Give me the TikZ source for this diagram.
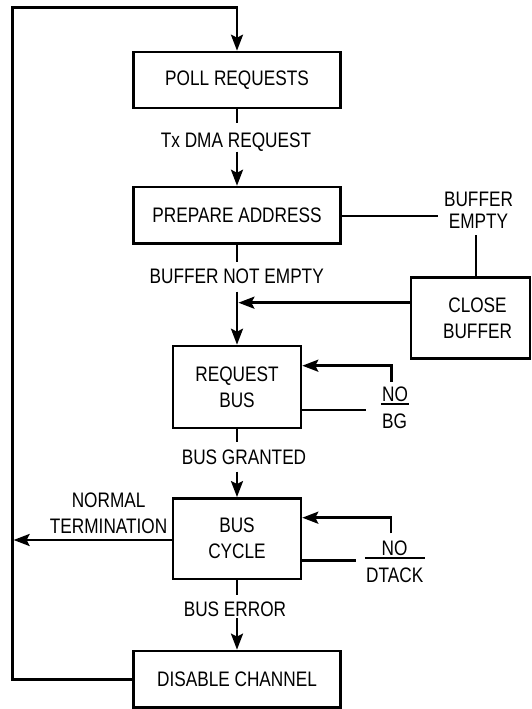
\documentclass[tikz,border=0pt]{standalone}
\usepackage{fontspec}
\setmainfont[FakeStretch=0.82]{Liberation Sans}
\usetikzlibrary{arrows.meta}
\begin{document}
\begin{tikzpicture}[x=1pt,y=-1pt,
  line width=2.6pt,
  >={Stealth[length=16pt,width=12pt,inset=3pt]},
  every node/.style={font=\fontsize{21}{26}\selectfont},
  box/.style={draw, line width=2.6pt, inner sep=0pt, align=center},
  lbl/.style={inner sep=0pt, text height=15pt, text depth=0pt, anchor=base},
  ml/.style={inner sep=0pt, align=center},
  rulethin/.style={line width=1.7pt},
]
\useasboundingbox (0,0) rectangle (532,709);
\fill[white] (0,0) rectangle (532,709);

% boxes
\node[box, minimum width=207pt, minimum height=56pt] (poll) at (237,80) {POLL REQUESTS};
\node[box, minimum width=207pt, minimum height=56.3pt] (prep) at (237,215.2) {PREPARE ADDRESS};
\node[box, minimum width=128pt, minimum height=82pt] (req) at (237,387) {REQUEST\\BUS};
\node[box, minimum width=128pt, minimum height=80.7pt] (cyc) at (237,538.7) {BUS\\CYCLE};
\node[box, minimum width=207pt, minimum height=56.7pt] (dis) at (237,679.3) {DISABLE CHANNEL};
\node[box, minimum width=119pt, minimum height=81pt] (close) at (470.5,318) {\hspace*{14pt}CLOSE\\\hspace*{14pt}BUFFER};

% labels
\node[lbl] (tx) at (236,147.3) {Tx DMA REQUEST};
\node[lbl] (bne) at (236.7,283.3) {BUFFER NOT EMPTY};
\node[lbl] (bgr) at (244,464.3) {BUS GRANTED};
\node[lbl] (ber) at (235,616) {BUS ERROR};
\node[ml] (bemp) at (478.5,210) {BUFFER\\[-4pt]EMPTY};
\node[ml] (nterm) at (108.6,513.7) {NORMAL\\TERMINATION};
\node[lbl] (no1) at (395,401.7) {NO};
\node[lbl] (bgn) at (394.5,428) {BG};
\node[lbl] (no2) at (394.5,555) {NO};
\node[lbl] (dt) at (394.7,582.3) {DTACK};

% spine coordinates
\coordinate (a1) at (237,123.3);
\coordinate (a2) at (237,151.7);
\coordinate (b1) at (237,261.7);
\coordinate (b2) at (237,291.7);
\coordinate (c1) at (237,441.7);
\coordinate (c2) at (237,471.7);
\coordinate (d1) at (237,595);
\coordinate (d2) at (237,618.3);

\draw (poll) -- (a1);
\draw[->] (a2) -- (prep);
\draw (prep) -- (b1);
\draw[->] (b2) -- (req);
\draw (req) -- (c1);
\draw[->] (c2) -- (cyc);
\draw (cyc) -- (d1);
\draw[->] (d2) -- (dis);

% close buffer branch
\coordinate (j1) at (238.4,302.7);
\draw[->] (close.west |- j1) -- (j1);
\coordinate (e1) at (438,216);
\draw (prep.east |- e1) -- (e1);
\coordinate (e2) at (476,235);
\draw (e2) -- (e2 |- close.north);

% feedback loops
\coordinate (f1) at (391.5,381.7);
\coordinate (f1t) at (391.5,365.7);
\draw[->] (f1) -- (f1t) -- (req.east |- f1t);
\coordinate (f1b) at (366,410);
\draw (req.east |- f1b) -- (f1b);
\coordinate (f2) at (391,533.3);
\coordinate (f2t) at (391,517.7);
\draw[->] (f2) -- (f2t) -- (cyc.east |- f2t);
\coordinate (f2b) at (355.7,560.7);
\draw (cyc.east |- f2b) -- (f2b);

% rules
\draw[rulethin] (no1.west |- 0,404.3) -- (no1.east |- 0,404.3);
\draw[rulethin] (dt.west |- 0,558.3) -- (dt.east |- 0,558.3);

% normal termination
\coordinate (nt1) at (13.6,540);
\draw[->] (cyc.west |- nt1) -- (nt1);

% outer loop
\coordinate (tl) at (12.3,7.7);
\draw[->] (dis.west) -| (tl) -| (poll.north);
\end{tikzpicture}
\end{document}
